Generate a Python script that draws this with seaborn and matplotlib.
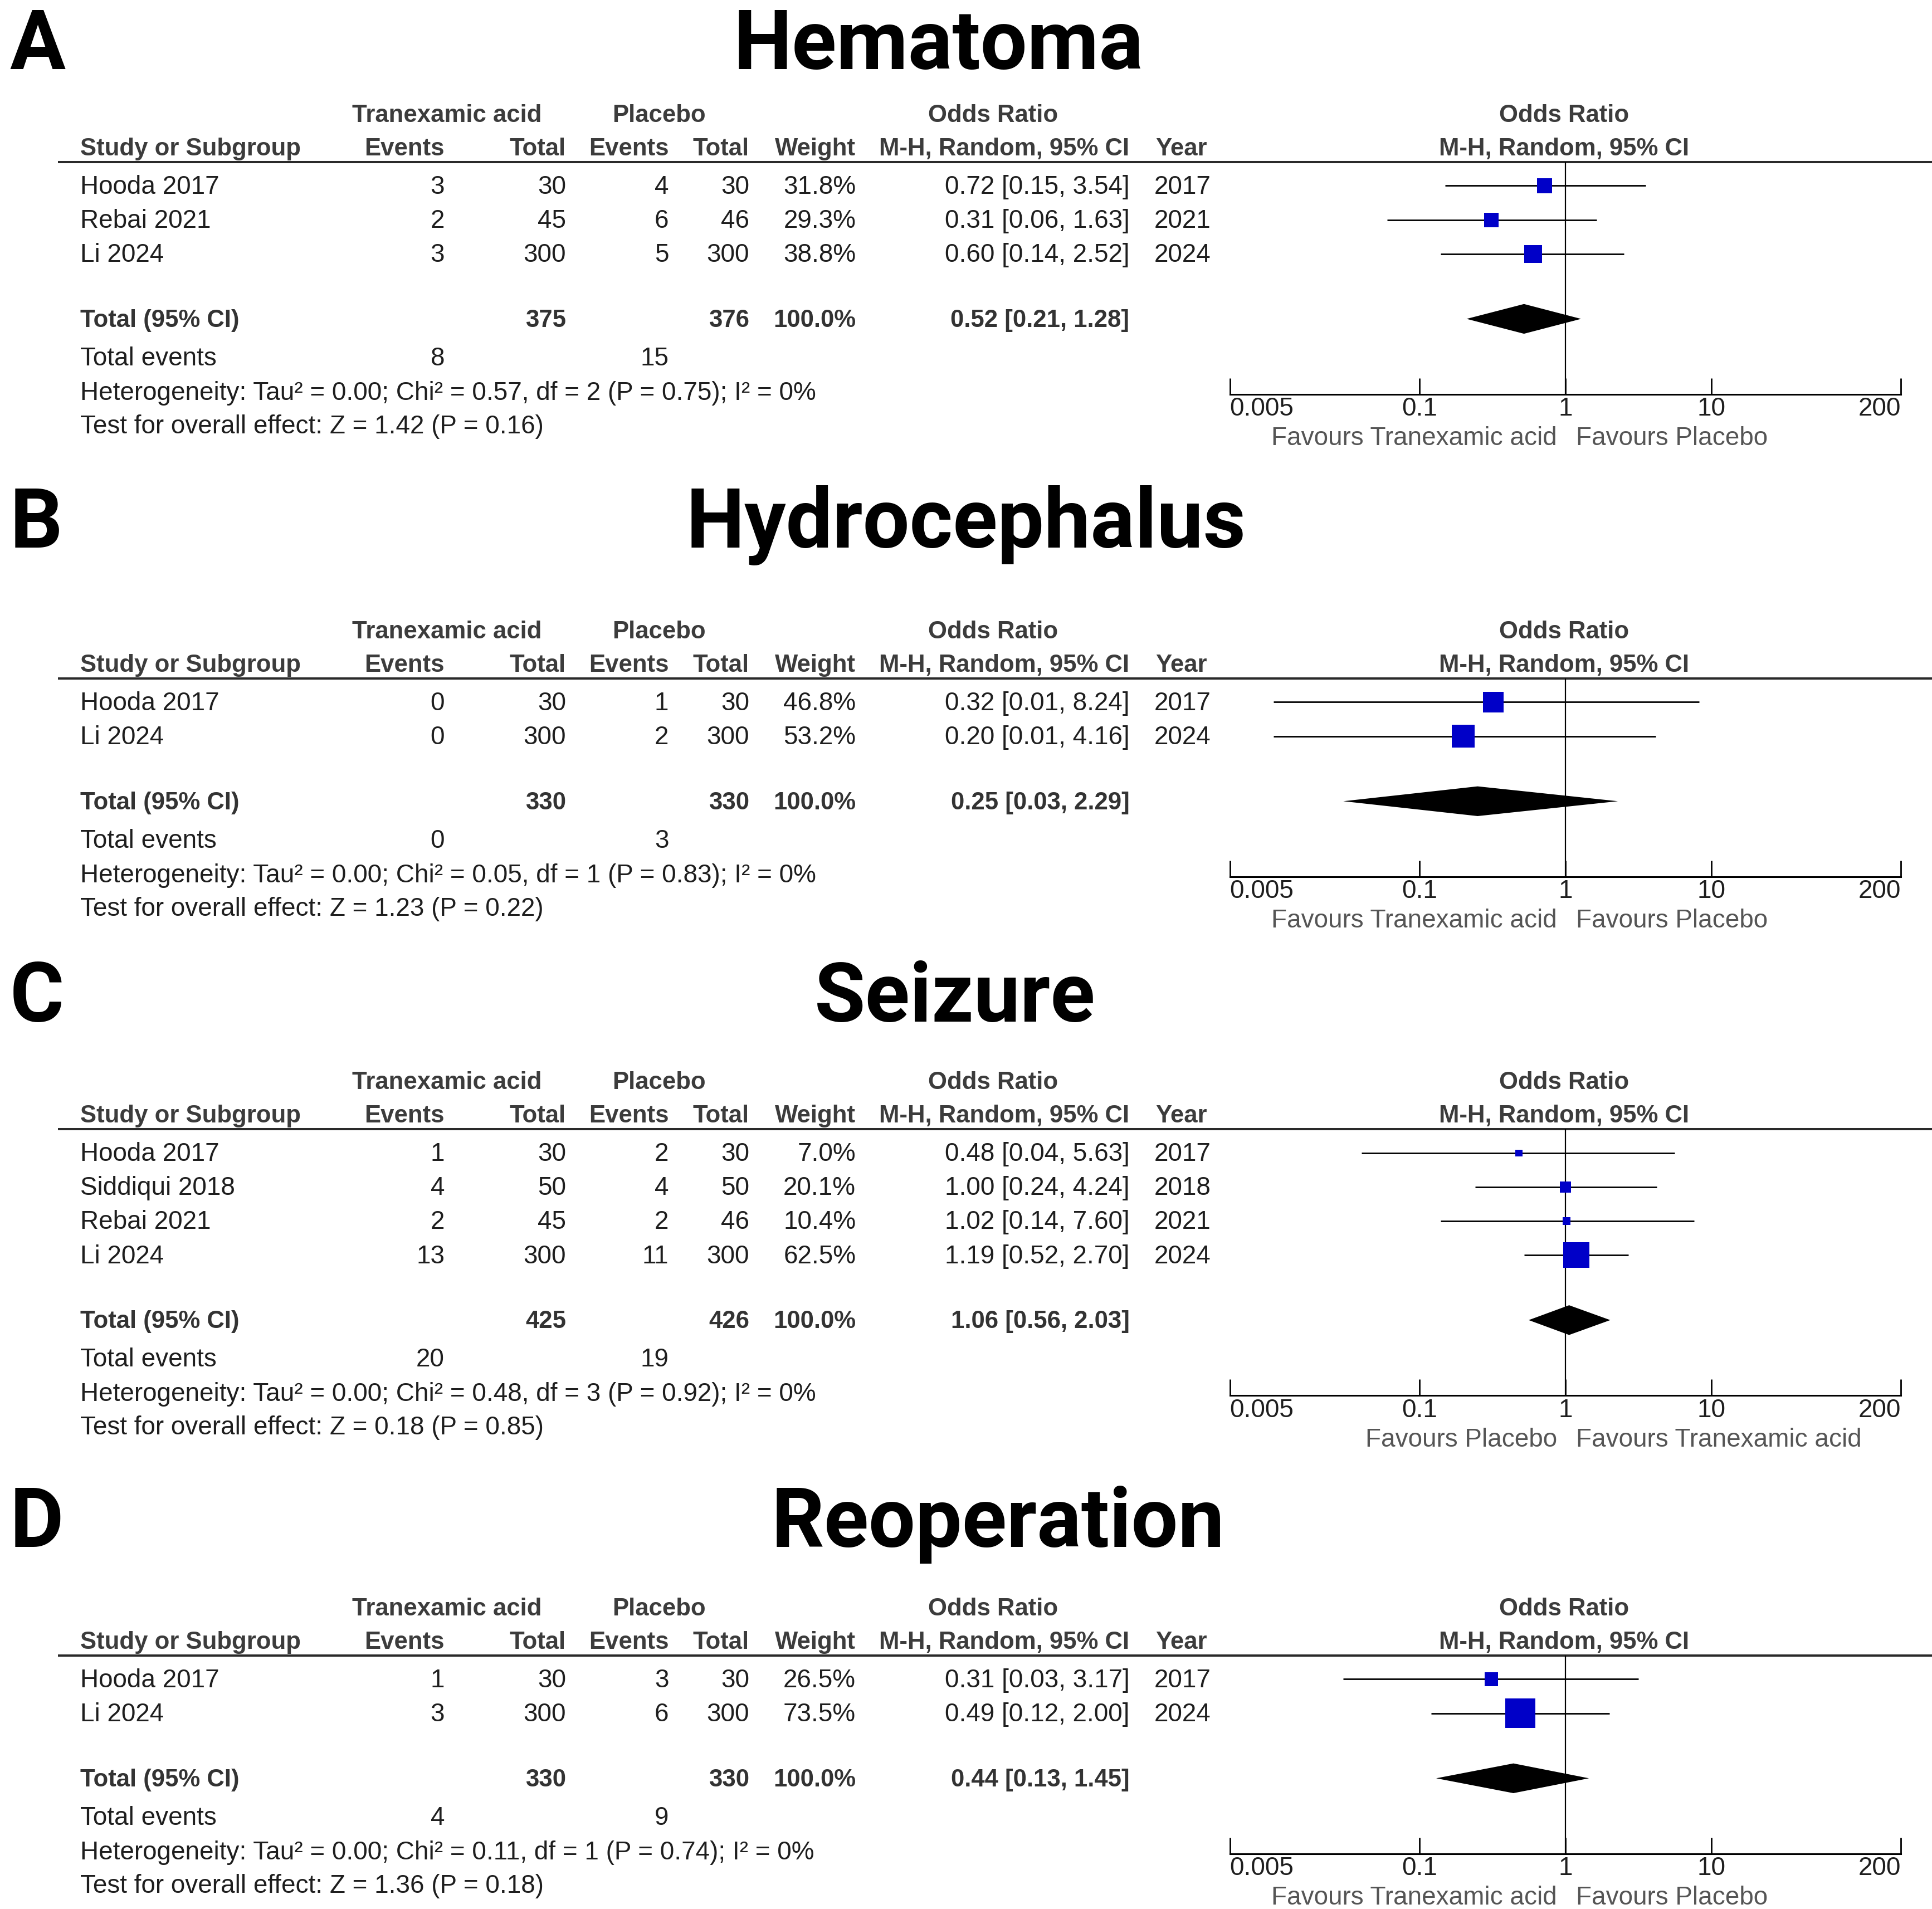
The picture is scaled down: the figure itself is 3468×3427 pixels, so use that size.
import matplotlib
matplotlib.use('Agg')
import matplotlib.pyplot as plt
import seaborn as sns
import numpy as np
from matplotlib.ticker import NullLocator

# ---------------- data ----------------
hematoma_study = ['Hooda 2017', 'Rebai 2021', 'Li 2024']
hematoma_txa_events = [3, 2, 3]
hematoma_txa_total = [30, 45, 300]
hematoma_pla_events = [4, 6, 5]
hematoma_pla_total = [30, 46, 300]
hematoma_weight = [31.8, 29.3, 38.8]
hematoma_or = [0.72, 0.31, 0.60]
hematoma_lo = [0.15, 0.06, 0.14]
hematoma_hi = [3.54, 1.63, 2.52]
hematoma_year = [2017, 2021, 2024]
hematoma_pooled = [0.52, 0.21, 1.28]
hematoma_totals = [375, 376]
hematoma_events = [8, 15]
hematoma_het = [0.00, 0.57, 2, 0.75, 0]
hematoma_z = [1.42, 0.16]

hydro_study = ['Hooda 2017', 'Li 2024']
hydro_txa_events = [0, 0]
hydro_txa_total = [30, 300]
hydro_pla_events = [1, 2]
hydro_pla_total = [30, 300]
hydro_weight = [46.8, 53.2]
hydro_or = [0.32, 0.20]
hydro_lo = [0.01, 0.01]
hydro_hi = [8.24, 4.16]
hydro_year = [2017, 2024]
hydro_pooled = [0.25, 0.03, 2.29]
hydro_totals = [330, 330]
hydro_events = [0, 3]
hydro_het = [0.00, 0.05, 1, 0.83, 0]
hydro_z = [1.23, 0.22]

seizure_study = ['Hooda 2017', 'Siddiqui 2018', 'Rebai 2021', 'Li 2024']
seizure_txa_events = [1, 4, 2, 13]
seizure_txa_total = [30, 50, 45, 300]
seizure_pla_events = [2, 4, 2, 11]
seizure_pla_total = [30, 50, 46, 300]
seizure_weight = [7.0, 20.1, 10.4, 62.5]
seizure_or = [0.48, 1.00, 1.02, 1.19]
seizure_lo = [0.04, 0.24, 0.14, 0.52]
seizure_hi = [5.63, 4.24, 7.60, 2.70]
seizure_year = [2017, 2018, 2021, 2024]
seizure_pooled = [1.06, 0.56, 2.03]
seizure_totals = [425, 426]
seizure_events = [20, 19]
seizure_het = [0.00, 0.48, 3, 0.92, 0]
seizure_z = [0.18, 0.85]

reop_study = ['Hooda 2017', 'Li 2024']
reop_txa_events = [1, 3]
reop_txa_total = [30, 300]
reop_pla_events = [3, 6]
reop_pla_total = [30, 300]
reop_weight = [26.5, 73.5]
reop_or = [0.31, 0.49]
reop_lo = [0.03, 0.12]
reop_hi = [3.17, 2.00]
reop_year = [2017, 2024]
reop_pooled = [0.44, 0.13, 1.45]
reop_totals = [330, 330]
reop_events = [4, 9]
reop_het = [0.00, 0.11, 1, 0.74, 0]
reop_z = [1.36, 0.18]

axis_ticks = [0.005, 0.1, 1, 10, 200]
axis_labels = ['0.005', '0.1', '1', '10', '200']

panels = [
    dict(letter='A', title='Hematoma', study=hematoma_study, te=hematoma_txa_events, tt=hematoma_txa_total,
         pe=hematoma_pla_events, pt=hematoma_pla_total, w=hematoma_weight, est=hematoma_or,
         lo=hematoma_lo, hi=hematoma_hi, year=hematoma_year, pooled=hematoma_pooled,
         totals=hematoma_totals, events=hematoma_events, het=hematoma_het, z=hematoma_z,
         fav=('Favours Tranexamic acid', 'Favours Placebo'), top=92, title_y=56, title_x=758),
    dict(letter='B', title='Hydrocephalus', study=hydro_study, te=hydro_txa_events, tt=hydro_txa_total,
         pe=hydro_pla_events, pt=hydro_pla_total, w=hydro_weight, est=hydro_or,
         lo=hydro_lo, hi=hydro_hi, year=hydro_year, pooled=hydro_pooled,
         totals=hydro_totals, events=hydro_events, het=hydro_het, z=hydro_z,
         fav=('Favours Tranexamic acid', 'Favours Placebo'), top=509, title_y=442, title_x=780),
    dict(letter='C', title='Seizure', study=seizure_study, te=seizure_txa_events, tt=seizure_txa_total,
         pe=seizure_pla_events, pt=seizure_pla_total, w=seizure_weight, est=seizure_or,
         lo=seizure_lo, hi=seizure_hi, year=seizure_year, pooled=seizure_pooled,
         totals=seizure_totals, events=seizure_events, het=seizure_het, z=seizure_z,
         fav=('Favours Placebo', 'Favours Tranexamic acid'), top=873, title_y=825, title_x=771),
    dict(letter='D', title='Reoperation', study=reop_study, te=reop_txa_events, tt=reop_txa_total,
         pe=reop_pla_events, pt=reop_pla_total, w=reop_weight, est=reop_or,
         lo=reop_lo, hi=reop_hi, year=reop_year, pooled=reop_pooled,
         totals=reop_totals, events=reop_events, het=reop_het, z=reop_z,
         fav=('Favours Tranexamic acid', 'Favours Placebo'), top=1298, title_y=1249, title_x=806),
]

# ---------------- style ----------------
sns.set_theme(style='white')
plt.rcParams['font.family'] = ['Liberation Sans', 'DejaVu Sans']
FS = 33      # regular table text
FSB = 31.5   # bold table text
TITLE_FS = 107

TXT = '#1e1e1e'
HEAD = '#3c3c3c'
TOT = '#333333'
FAV = '#555555'
BLUE = '#0000C8'

# layout works in a 1560-wide coordinate frame, scaled to the 3468 px output
W = 1560.0
H = 3427 / (3468 / W)
BL = 6.5             # text centre -> baseline
X0, X1 = 993, 1535   # forest plot x-extent

fig = plt.figure(figsize=(34.68, 34.27), dpi=100)
base = fig.add_axes([0, 0, 1, 1])
base.set_xlim(0, W)
base.set_ylim(H, 0)
base.axis('off')


def put(x, y, s, ha='left', bold=False, color=TXT):
    base.text(x, y + BL, s, ha=ha, va='baseline', fontsize=FSB if bold else FS,
              fontweight='bold' if bold else 'normal', color=color)


for p in panels:
    h = p['top']
    n = len(p['study'])

    # panel letter and title
    base.text(8, p['title_y'], p['letter'], ha='left', va='baseline', fontsize=TITLE_FS,
              fontweight='bold', family=['Roboto', 'DejaVu Sans'], color='black')
    base.text(p['title_x'], p['title_y'], p['title'], ha='center', va='baseline', fontsize=TITLE_FS,
              fontweight='bold', family=['Roboto', 'DejaVu Sans'], color='black')

    # headers
    put(361, h, 'Tranexamic acid', ha='center', bold=True, color=HEAD)
    put(532, h, 'Placebo', ha='center', bold=True, color=HEAD)
    put(802, h, 'Odds Ratio', ha='center', bold=True, color=HEAD)
    put(1263, h, 'Odds Ratio', ha='center', bold=True, color=HEAD)
    h2 = h + 27
    put(65, h2, 'Study or Subgroup', bold=True, color=HEAD)
    put(359, h2, 'Events', ha='right', bold=True, color=HEAD)
    put(457, h2, 'Total', ha='right', bold=True, color=HEAD)
    put(540, h2, 'Events', ha='right', bold=True, color=HEAD)
    put(605, h2, 'Total', ha='right', bold=True, color=HEAD)
    put(691, h2, 'Weight', ha='right', bold=True, color=HEAD)
    put(912, h2, 'M-H, Random, 95% CI', ha='right', bold=True, color=HEAD)
    put(933, h2, 'Year', bold=True, color=HEAD)
    put(1263, h2, 'M-H, Random, 95% CI', ha='center', bold=True, color=HEAD)

    line_y = h + 39
    base.plot([47, W], [line_y, line_y], color='#2a2a2a', lw=2.9, solid_capstyle='butt')

    rows = [h + 58 + 27.5 * i for i in range(n)]
    for i, y in enumerate(rows):
        put(65, y, p['study'][i])
        put(359, y, str(p['te'][i]), ha='right')
        put(457, y, str(p['tt'][i]), ha='right')
        put(540, y, str(p['pe'][i]), ha='right')
        put(605, y, str(p['pt'][i]), ha='right')
        put(691, y, f"{p['w'][i]:.1f}%", ha='right')
        put(912, y, f"{p['est'][i]:.2f} [{p['lo'][i]:.2f}, {p['hi'][i]:.2f}]", ha='right')
        put(932, y, str(p['year'][i]))

    ty = rows[-1] + 52.5
    put(65, ty, 'Total (95% CI)', bold=True, color=TOT)
    put(457, ty, str(p['totals'][0]), ha='right', bold=True, color=TOT)
    put(605, ty, str(p['totals'][1]), ha='right', bold=True, color=TOT)
    put(691, ty, '100.0%', ha='right', bold=True, color=TOT)
    pe_, pl_, ph_ = p['pooled']
    put(912, ty, f'{pe_:.2f} [{pl_:.2f}, {ph_:.2f}]', ha='right', bold=True, color=TOT)

    put(65, ty + 31, 'Total events')
    put(359, ty + 31, str(p['events'][0]), ha='right')
    put(540, ty + 31, str(p['events'][1]), ha='right')
    tau, chi, df, pv, i2 = p['het']
    put(65, ty + 59, f'Heterogeneity: Tau\u00b2 = {tau:.2f}; Chi\u00b2 = {chi:.2f}, df = {df} '
                     f'(P = {pv:.2f}); I\u00b2 = {i2}%')
    put(65, ty + 86, f"Test for overall effect: Z = {p['z'][0]:.2f} (P = {p['z'][1]:.2f})")

    # forest plot
    axis_y = ty + 61
    ax = fig.add_axes([X0 / W, 1 - axis_y / H, (X1 - X0) / W, (axis_y - line_y) / H])
    ax.set_facecolor('none')
    ax.set_xscale('log')
    ax.set_xlim(axis_ticks[0], axis_ticks[-1])
    ax.set_ylim(axis_y, line_y)

    ax.axvline(1, color='black', lw=1.6, zorder=1)
    ax.hlines(rows, p['lo'], p['hi'], color='black', lw=2.0, zorder=2)
    sizes = [(5.76 + 0.446 * wt) ** 2 for wt in p['w']]
    sns.scatterplot(x=p['est'], y=rows, s=sizes, marker='s', color=BLUE, linewidth=0,
                    ax=ax, legend=False, zorder=3)
    dh = 12
    ax.fill([pl_, pe_, ph_, pe_], [ty, ty - dh, ty, ty + dh], color='black', lw=0, zorder=3)

    sns.despine(ax=ax, left=True)
    ax.spines['bottom'].set_color('black')
    ax.spines['bottom'].set_linewidth(2.2)
    ax.set_yticks([])
    ax.set_xticks(axis_ticks)
    ax.set_xticklabels(axis_labels)
    ax.xaxis.set_minor_locator(NullLocator())
    ax.tick_params(axis='x', direction='in', length=21, width=2, pad=3,
                   labelsize=FS, labelcolor=TXT, color='black', bottom=True)
    labs = ax.get_xticklabels()
    labs[0].set_ha('left')
    labs[-1].set_ha('right')
    ax.set_xlabel('')
    ax.set_ylabel('')

    ax.annotate(p['fav'][0], xy=(1, 0), xycoords=('data', 'axes fraction'),
                xytext=(-11, -57), textcoords='offset points', ha='right', va='center',
                fontsize=FS, color=FAV, annotation_clip=False)
    ax.annotate(p['fav'][1], xy=(1, 0), xycoords=('data', 'axes fraction'),
                xytext=(14, -57), textcoords='offset points', ha='left', va='center',
                fontsize=FS, color=FAV, annotation_clip=False)

fig.savefig('out.png', dpi=100)
